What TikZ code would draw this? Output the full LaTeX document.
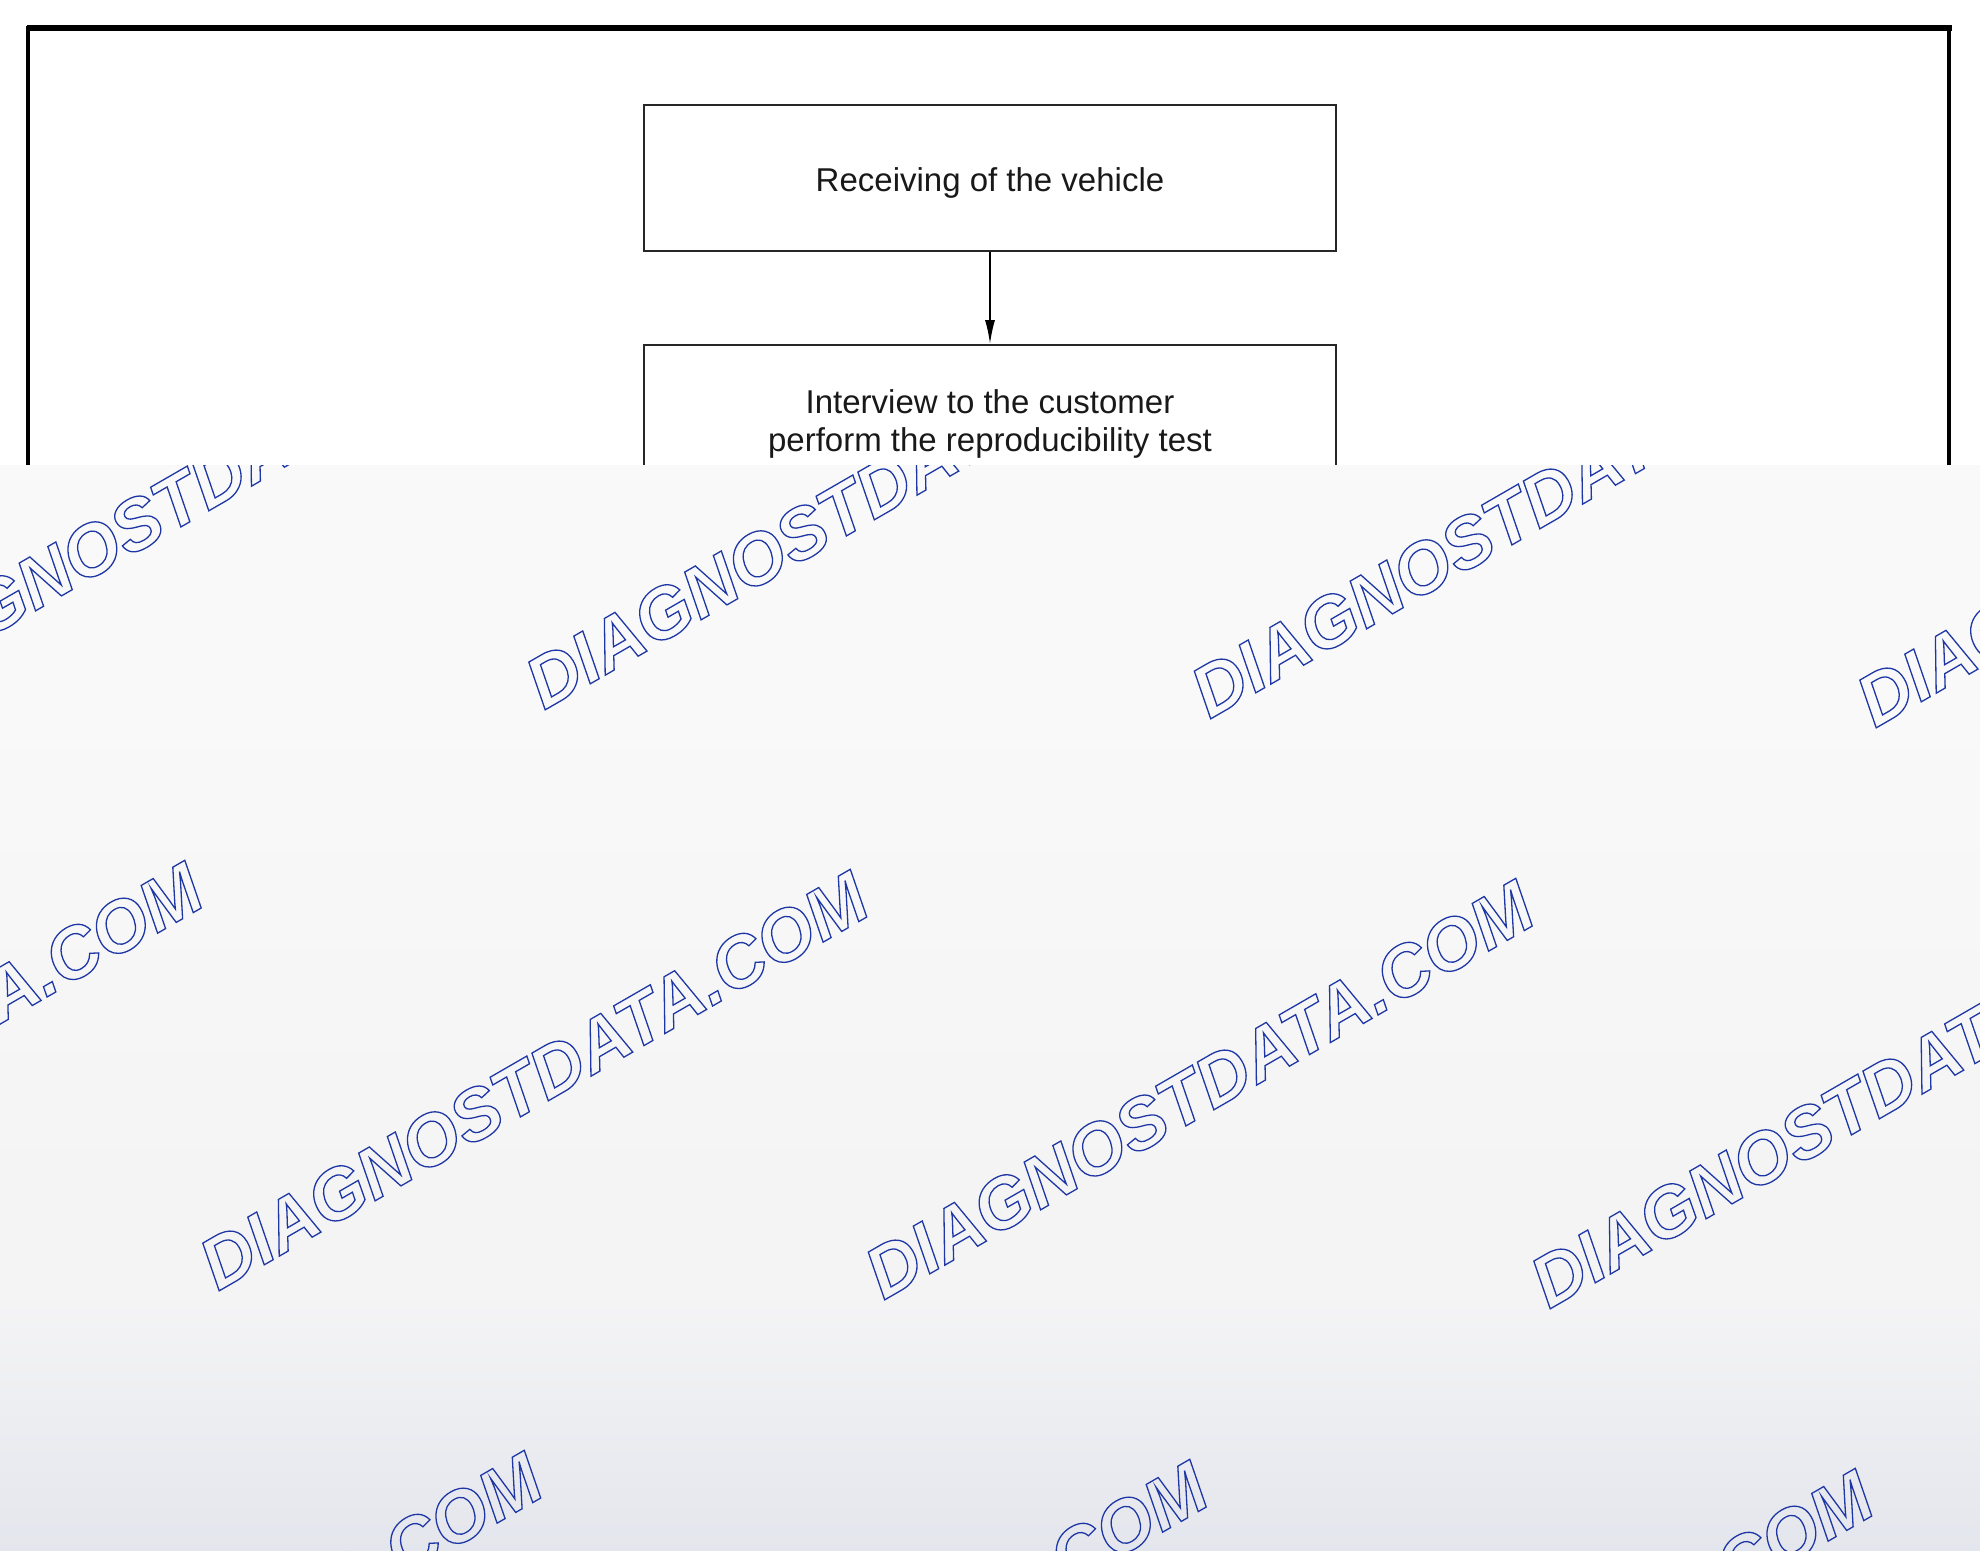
\documentclass[tikz,border=0pt]{standalone}
\usepackage{fontspec}
\setmainfont{Liberation Sans}
\usetikzlibrary{positioning,arrows.meta}

\definecolor{boxtext}{RGB}{25,25,25}
\definecolor{wmblue}{RGB}{30,55,165}
\definecolor{wmtop}{RGB}{249,249,249}
\definecolor{wmmid}{RGB}{244,244,245}
\definecolor{wmbot}{RGB}{228,230,237}

\newcommand{\outlined}[1]{\special{pdf:literal direct 1 Tr 0.65 w}#1\special{pdf:literal direct 0 Tr}}

\tikzset{
	stepbox/.style={draw=black!85, line width=1.1pt, minimum width=346pt, text=boxtext, align=center, font=\fontsize{16.5}{19}\selectfont},
	wmark/.style={anchor=base west, rotate=30, text=wmblue, font=\fontsize{36}{36}\bfseries\itshape\selectfont}
}

\begin{document}
\begin{tikzpicture}[x=0.5pt, y=-0.5pt]
		    \useasboundingbox[fill=white] (0,0) rectangle (1980,1551);

		    % frame
		    \draw[line width=1.8pt] (28,520) -- (28,28) -- (1949,28) -- (1949,520);
		    \draw[line width=3pt] (27,28) -- (1952,28);

		    \node[stepbox, minimum height=73pt, text height=17pt, text depth=3.5pt] (recv) at (990,178) {Receiving of the vehicle};
		    \node[stepbox, minimum height=78.5pt, below=46pt of recv] (intv) {Interview to the customer\\perform the reproducibility test};

		    \draw[-{Latex[length=12pt,width=5pt]}, line width=0.9pt] (recv) -- (intv);

		    % overlay
		    \begin{scope}
		    \clip (0,465) rectangle (1980,1551);
		    \fill[wmtop] (0,465) rectangle (1980,1551);
		    \shade[top color=wmtop, bottom color=wmmid] (0,700) rectangle (1980,1200);
		    \fill[wmmid] (0,1200) rectangle (1980,1300);
		    \shade[top color=wmmid, bottom color=wmbot] (0,1300) rectangle (1980,1551);
		    \foreach \r in {0,1,2}
		        \foreach \c in {-1,...,3}
		            \node[wmark] (wm-\r-\c) at ({538+665.5*\c-326*\r},{714+9*\c+581*\r}) {\outlined{DIAGNOSTDATA.COM}};
		    \end{scope}
\end{tikzpicture}
\end{document}
